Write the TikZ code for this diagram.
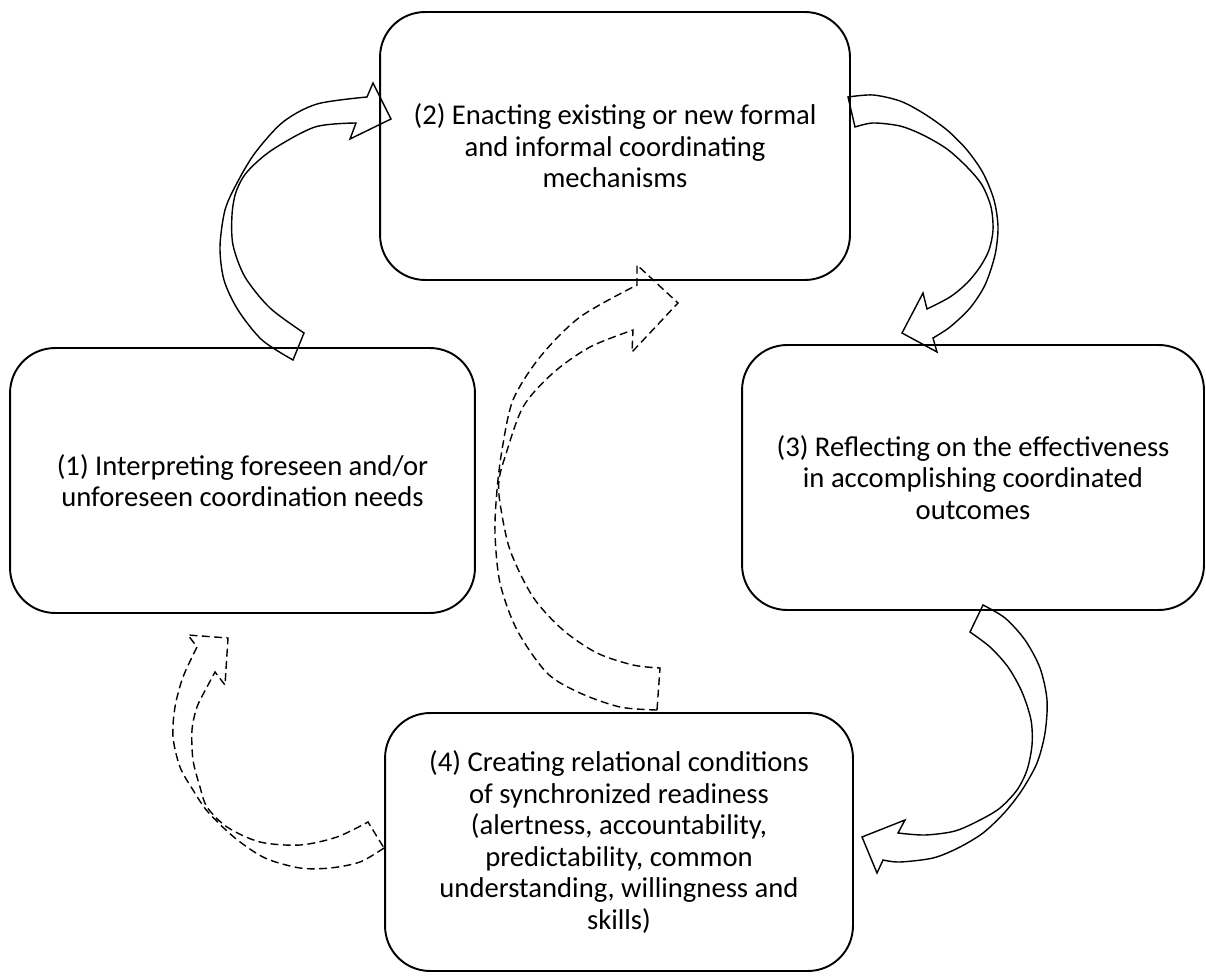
\documentclass[tikz,border=0pt]{standalone}
\usepackage{fontspec}
\setmainfont{Carlito}
\usepackage{tikz}
\tikzset{
  stagebox/.style={draw, line width=1.1pt, rounded corners=0.9cm, align=center,
    font=\fontsize{16.3pt}{18pt}\selectfont},
  bentarrow/.style={line width=0.8pt, line join=miter},
  bentdashed/.style={line width=0.8pt, dash pattern=on 4.5pt off 2.5pt}
}

\begin{document}
\begin{tikzpicture}[x=0.02cm, y=-0.02cm]
			%%%%% START %%%%%
			\useasboundingbox (0,0) rectangle (1206,976);
			
			\node[stagebox, minimum width=9.3cm, minimum height=5.3cm] (interp) at (242.5,480.5)
				{(1) Interpreting foreseen and/or\\unforeseen coordination needs};
			\node[stagebox, minimum width=9.4cm, minimum height=5.36cm] (enact) at (615,146)
				{(2) Enacting existing or new formal\\and informal coordinating\\mechanisms};
			\node[stagebox, minimum width=9.24cm, minimum height=5.3cm] (reflect) at (973,477.5)
				{(3) Reflecting on the effectiveness\\in accomplishing coordinated\\outcomes};
			\node[stagebox, minimum width=9.36cm, minimum height=5.16cm] (create) at (619,842)
				{(4) Creating relational conditions\\of synchronized readiness\\(alertness, accountability,\\predictability, common\\understanding, willingness and\\skills)};
			
			% (1) -> (2)
			\draw[bentarrow] plot[smooth] coordinates {(293,360) (262,340) (238,310) (224,280) (220,247) (225,210) (237,183) (255,153) (283,122) (317,104) (367,97)}
				-- (373,83) -- (391,119) -- (350,139) -- (356,123)
				-- plot[smooth] coordinates {(356,123) (315,127) (272,150) (247,172) (236,192) (232,215) (233,245) (245,277) (270,308) (304,333)} -- cycle;
			
			% (2) -> (3)
			\draw[bentarrow] plot[smooth] coordinates {(848,97) (873,95) (900,101) (923,113) (947,130) (967,150) (983,173) (994,200) (998,227) (995,255) (985,285) (970,308) (950,327) (933,338)}
				-- (937,352) -- (902,333) -- (923,293) -- (927,309)
				-- plot[smooth] coordinates {(927,309) (950,297) (967,283) (980,267) (989,250) (993,230) (991,207) (982,185) (967,167) (947,149) (923,135) (900,126) (873,123) (855,127)} -- cycle;
			
			% (3) -> (4)
			\draw[bentarrow] plot[smooth] coordinates {(983,605) (1005,618) (1025,640) (1040,668) (1047,700) (1045,733) (1037,763) (1022,790) (1005,812) (983,833) (958,848) (933,858) (900,862) (883,860)}
				-- (877,873) -- (862,837) -- (905,820) -- (898,833)
				-- plot[smooth] coordinates {(898,833) (925,835) (955,831) (980,820) (1000,808) (1017,790) (1027,770) (1032,745) (1031,720) (1022,692) (1008,667) (990,647) (970,632)} -- cycle;
			
			% (4) -> (1), dashed
			\draw[bentdashed] plot[smooth] coordinates {(384,848) (360,862) (330,868) (300,868) (265,858) (235,838) (208,812) (193,790) (180,767) (173,737) (175,707) (183,677) (197,647)}
				-- (188,635) -- (228,638) -- (225,685) -- (215,672)
				-- plot[smooth] coordinates {(215,672) (207,687) (197,707) (192,730) (193,760) (200,787) (207,807) (227,827) (260,842) (300,845) (337,837) (368,822)} -- cycle;
			
			% (4) -> (2), dashed
			\draw[bentdashed] plot[smooth] coordinates {(657,710) (620,707) (580,693) (547,673) (517,630) (500,583) (495,533) (497,490) (502,450) (513,400) (540,357) (580,317) (637,285)}
				-- (637,265) -- (678,303) -- (632,352) -- (633,330)
				-- plot[smooth] coordinates {(633,330) (590,347) (553,373) (523,407) (505,457) (499,480) (500,503) (510,550) (533,597) (563,630) (597,653) (633,665) (660,668)} -- cycle;
			%%%%% END %%%%%
\end{tikzpicture}
\end{document}
